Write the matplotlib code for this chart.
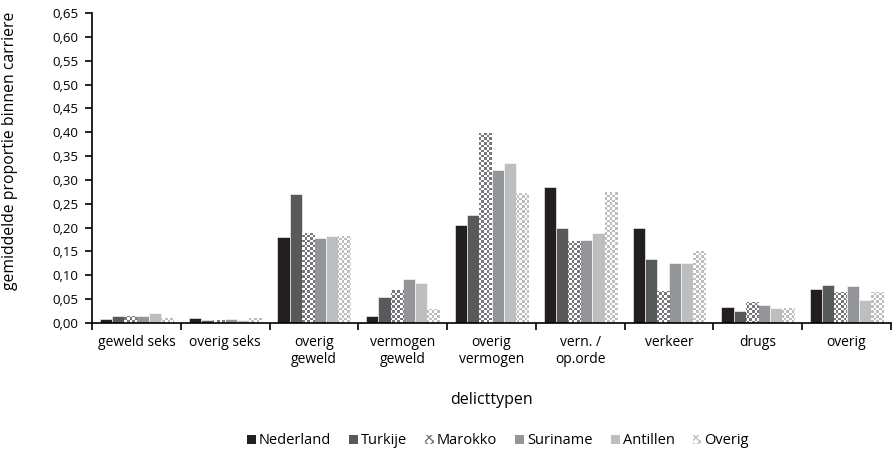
import numpy as np
import matplotlib
matplotlib.use("Agg")
import matplotlib.pyplot as plt
from matplotlib.patches import Patch
from matplotlib.colors import ListedColormap

plt.rcParams['font.family'] = ['Open Sans', 'DejaVu Sans']
plt.rcParams['hatch.color'] = "#808285"

categories = ["geweld seks", "overig seks", "overig\ngeweld", "vermogen\ngeweld",
              "overig\nvermogen", "vern. /\nop.orde", "verkeer", "drugs", "overig"]
series = ["Nederland", "Turkije", "Marokko", "Suriname", "Antillen", "Overig"]
nederland = [0.009, 0.011, 0.181, 0.015, 0.206, 0.286, 0.200, 0.034, 0.072]
turkije   = [0.015, 0.007, 0.271, 0.055, 0.227, 0.200, 0.135, 0.026, 0.080]
marokko   = [0.015, 0.006, 0.189, 0.069, 0.399, 0.171, 0.068, 0.044, 0.064]
suriname  = [0.014, 0.008, 0.178, 0.092, 0.321, 0.173, 0.126, 0.038, 0.078]
antillen  = [0.020, 0.006, 0.183, 0.083, 0.335, 0.189, 0.126, 0.031, 0.049]
overig    = [0.010, 0.010, 0.182, 0.029, 0.272, 0.275, 0.152, 0.031, 0.064]
yticks = np.arange(0, 0.651, 0.05)

values = [nederland, turkije, marokko, suriname, antillen, overig]
colors = ["#231f20", "#58595b", "#77787b", "#939598", "#bcbec0", "#bcbec0"]
checker = [False, False, True, False, False, True]

fig = plt.figure(figsize=(8.93, 4.53), dpi=100)
ax = fig.add_axes([92/893, 1-323/453, (891-92)/893, 310/453])

n = len(series)
bw = 0.137
x = np.arange(len(categories))
xlim = (-0.5, len(categories) - 0.5)

# checkerboard image
cw, ch = 320, 124
yy, xx = np.mgrid[0:ch, 0:cw]
board = ((xx + yy) % 2).astype(float)

for i, (vals, col, chk) in enumerate(zip(values, colors, checker)):
    pos = x + (i - (n - 1) / 2) * bw
    if chk:
        bars = ax.bar(pos, vals, width=bw, color="white", edgecolor="none", zorder=2)
        cmap = ListedColormap([col, "white"])
        for b in bars:
            im = ax.imshow(board, cmap=cmap, extent=(xlim[0], xlim[1], 0, 0.65),
                           aspect="auto", interpolation="nearest", zorder=2.5, origin="lower")
            im.set_clip_path(b)
    else:
        ax.bar(pos, vals, width=bw, color=col, edgecolor="white", linewidth=0.4, zorder=2)

ax.set_aspect("auto")
ax.set_xlim(*xlim)
ax.set_ylim(0, 0.65)

for s in ["top", "right"]:
    ax.spines[s].set_visible(False)
ax.spines["left"].set_linewidth(1.2)
ax.spines["bottom"].set_linewidth(1.2)

ax.set_yticks(yticks)
ax.set_yticklabels([f"{v:.2f}".replace(".", ",") for v in yticks], fontsize=9.5)
ax.tick_params(axis="y", length=5, width=1.2, direction="out", pad=5)

ax.set_xticks(np.arange(-0.5, len(categories)), minor=False)
ax.set_xticklabels([])
ax.tick_params(axis="x", which="major", length=5, width=1.2, direction="out")
ax.set_xticks(x, minor=True)
ax.set_xticklabels(categories, minor=True, fontsize=10, linespacing=1.1, va="top")
ax.tick_params(axis="x", which="minor", length=0, pad=9)

ax.set_xlabel("delicttypen", fontsize=11.5, labelpad=18)
ax.set_ylabel("gemiddelde proportie binnen carriere", fontsize=11.3)
ax.yaxis.set_label_coords(-0.092, 0.555)

handles = []
for s, col, chk in zip(series, colors, checker):
    if chk:
        handles.append(Patch(facecolor="white", edgecolor=col, hatch="xxxx", linewidth=0, label=s))
    else:
        handles.append(Patch(facecolor=col, edgecolor="none", label=s))
fig.legend(handles=handles, loc="center", bbox_to_anchor=(498/893, 1-441/453), ncol=6,
           frameon=False, fontsize=10.5, handlelength=0.6, handleheight=0.6,
           handletextpad=0.2, columnspacing=1.25)

fig.savefig("out.png", dpi=100)
